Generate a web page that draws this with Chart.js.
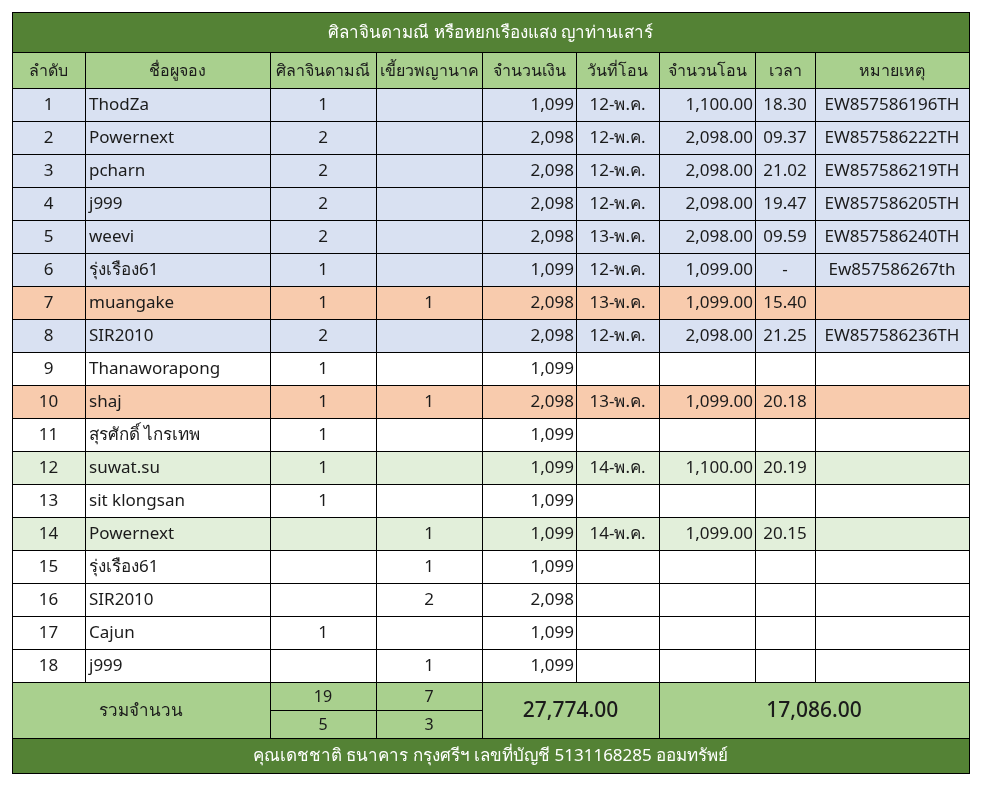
<!DOCTYPE html>
<html>
<head>
<meta charset="utf-8">
<script src="https://cdn.jsdelivr.net/npm/chart.js@4"></script>
<style>
    html, body { margin: 0; padding: 0; background: #fff; }
    #wrap { width: 981px; height: 786px; }
</style>
</head>
<body>
<div id="wrap"><canvas id="bookingTable" width="981" height="786"></canvas></div>
<script>
// ข้อมูลตาราง
const title = 'ศิลาจินดามณี หรือหยกเรืองแสง ญาท่านเสาร์';
const footer = 'คุณเดชชาติ ธนาคาร กรุงศรีฯ เลขที่บัญชี 5131168285 ออมทรัพย์';
const headers = ['ลำดับ', 'ชื่อผูจอง', 'ศิลาจินดามณี', 'เขี้ยวพญานาค', 'จำนวนเงิน', 'วันที่โอน', 'จำนวนโอน', 'เวลา', 'หมายเหตุ'];

const rowNo = [1, 2, 3, 4, 5, 6, 7, 8, 9, 10, 11, 12, 13, 14, 15, 16, 17, 18];
const names = ['ThodZa', 'Powernext', 'pcharn', 'j999', 'weevi', 'รุ่งเรือง61', 'muangake', 'SIR2010', 'Thanaworapong',
    'shaj', 'สุรศักดิ์ ไกรเทพ', 'suwat.su', 'sit klongsan', 'Powernext', 'รุ่งเรือง61', 'SIR2010', 'Cajun', 'j999'];
const stone = [1, 2, 2, 2, 2, 1, 1, 2, 1, 1, 1, 1, 1, null, null, null, 1, null];
const naga = [null, null, null, null, null, null, 1, null, null, 1, null, null, null, 1, 1, 2, null, 1];
const amount = [1099, 2098, 2098, 2098, 2098, 1099, 2098, 2098, 1099, 2098, 1099, 1099, 1099, 1099, 1099, 2098, 1099, 1099];
const transferDate = ['12-พ.ค.', '12-พ.ค.', '12-พ.ค.', '12-พ.ค.', '13-พ.ค.', '12-พ.ค.', '13-พ.ค.', '12-พ.ค.', '',
    '13-พ.ค.', '', '14-พ.ค.', '', '14-พ.ค.', '', '', '', ''];
const transferAmount = [1100, 2098, 2098, 2098, 2098, 1099, 1099, 2098, null, 1099, null, 1100, null, 1099, null, null, null, null];
const transferTime = ['18.30', '09.37', '21.02', '19.47', '09.59', '-', '15.40', '21.25', '', '20.18', '', '20.19', '', '20.15', '', '', '', ''];
const notes = ['EW857586196TH', 'EW857586222TH', 'EW857586219TH', 'EW857586205TH', 'EW857586240TH', 'Ew857586267th', '',
    'EW857586236TH', '', '', '', '', '', '', '', '', '', ''];
// สถานะแถว: sent = ส่งแล้ว, part = โอนบางส่วน, paid = โอนแล้ว
const rowStatus = ['sent', 'sent', 'sent', 'sent', 'sent', 'sent', 'part', 'sent', '', 'part', '', 'paid', '', 'paid', '', '', '', ''];

const totalLabel = 'รวมจำนวน';
const stoneTotals = [19, 5];
const nagaTotals = [7, 3];
const amountTotal = 27774;
const transferTotal = 17086;

// เลย์เอาต์ (หน่วยเดียวกับสเกลของกราฟ)
const colEdges = [0, 73, 257.5, 363.5, 469.7, 563.7, 647.3, 742.7, 803.3, 957];
const titleH = 40, headH = 36, rowH = 33, subH = 28.2, footH = 35;
const TABLE_W = 957, TABLE_H = 761;

const COLORS = {
    dark: '#548235',
    light: '#A9D08E',
    sent: '#D9E1F2',
    part: '#F8CBAD',
    paid: '#E2EFDA',
    none: '#FFFFFF',
    text: '#1b1b1b',
    line: '#000000'
};
const FONT = '"Noto Sans", "Open Sans", Tahoma, sans-serif';

const fmtInt = v => v == null ? '' : v.toLocaleString('en-US');
const fmtMoney = v => v == null ? '' : v.toLocaleString('en-US', { minimumFractionDigits: 2, maximumFractionDigits: 2 });

// สร้างรายการเซลล์ทั้งหมด
function buildCells() {
    const cells = [];
    const L = colEdges;
    let y = 0;
    cells.push({ x0: L[0], x1: L[9], y0: y, y1: y + titleH, fill: COLORS.dark, text: title, color: '#fff', align: 'center', size: 17 });
    y += titleH;
    headers.forEach((h, i) => {
        cells.push({ x0: L[i], x1: L[i + 1], y0: y, y1: y + headH, fill: COLORS.light, text: h, align: 'center', size: 16 });
    });
    y += headH;
    for (let r = 0; r < rowNo.length; r++) {
        const fill = COLORS[rowStatus[r] || 'none'];
        const vals = [
            [String(rowNo[r]), 'center'],
            [names[r], 'left'],
            [stone[r] == null ? '' : String(stone[r]), 'center'],
            [naga[r] == null ? '' : String(naga[r]), 'center'],
            [fmtInt(amount[r]), 'right'],
            [transferDate[r], 'center'],
            [fmtMoney(transferAmount[r]), 'right'],
            [transferTime[r], 'center'],
            [notes[r], 'center']
        ];
        vals.forEach((v, i) => {
            cells.push({ x0: L[i], x1: L[i + 1], y0: y, y1: y + rowH, fill, text: v[0], align: v[1], size: 17 });
        });
        y += rowH;
    }
    // แถวรวม
    const yMid = y + subH, yEnd = y + subH * 2;
    cells.push({ x0: L[0], x1: L[2], y0: y, y1: yEnd, fill: COLORS.light, text: totalLabel, align: 'center', size: 17 });
    cells.push({ x0: L[2], x1: L[3], y0: y, y1: yMid, fill: COLORS.light, text: String(stoneTotals[0]), align: 'center', size: 16 });
    cells.push({ x0: L[2], x1: L[3], y0: yMid, y1: yEnd, fill: COLORS.light, text: String(stoneTotals[1]), align: 'center', size: 16 });
    cells.push({ x0: L[3], x1: L[4], y0: y, y1: yMid, fill: COLORS.light, text: String(nagaTotals[0]), align: 'center', size: 16 });
    cells.push({ x0: L[3], x1: L[4], y0: yMid, y1: yEnd, fill: COLORS.light, text: String(nagaTotals[1]), align: 'center', size: 16 });
    cells.push({ x0: L[4], x1: L[6], y0: y, y1: yEnd, fill: COLORS.light, text: fmtMoney(amountTotal), align: 'center', size: 21, weight: 500 });
    cells.push({ x0: L[6], x1: L[9], y0: y, y1: yEnd, fill: COLORS.light, text: fmtMoney(transferTotal), align: 'center', size: 21, weight: 500 });
    y = yEnd;
    cells.push({ x0: L[0], x1: L[9], y0: y, y1: TABLE_H, fill: COLORS.dark, text: footer, color: '#fff', align: 'center', size: 17 });
    return cells;
}

// ปลั๊กอินวาดตารางผ่านสเกลของ Chart.js
const tablePlugin = {
    id: 'tablePlugin',
    afterDraw(chart) {
        const { ctx, scales: { x, y } } = chart;
        const cells = buildCells();
        const px = v => Math.round(x.getPixelForValue(v));
        const py = v => Math.round(y.getPixelForValue(v));

        ctx.save();
        cells.forEach(c => {
            ctx.fillStyle = c.fill;
            ctx.fillRect(px(c.x0), py(c.y0), px(c.x1) - px(c.x0), py(c.y1) - py(c.y0));
        });
        ctx.strokeStyle = COLORS.line;
        ctx.lineWidth = 1;
        cells.forEach(c => {
            ctx.strokeRect(px(c.x0) + 0.5, py(c.y0) + 0.5, px(c.x1) - px(c.x0), py(c.y1) - py(c.y0));
        });
        ctx.textBaseline = 'middle';
        cells.forEach(c => {
            if (!c.text) return;
            ctx.font = `${c.weight || 400} ${c.size}px ${FONT}`;
            ctx.fillStyle = c.color || COLORS.text;
            const cy = (py(c.y0) + py(c.y1)) / 2 + 1;
            let tx;
            if (c.align === 'left') {
                ctx.textAlign = 'left';
                tx = px(c.x0) + 4;
            } else if (c.align === 'right') {
                ctx.textAlign = 'right';
                tx = px(c.x1) - 2;
            } else {
                ctx.textAlign = 'center';
                tx = (px(c.x0) + px(c.x1)) / 2;
            }
            ctx.fillText(c.text, tx, cy);
        });
        ctx.restore();
    }
};

new Chart(document.getElementById('bookingTable'), {
    type: 'scatter',
    data: { datasets: [] },
    options: {
        responsive: false,
        animation: false,
        layout: { padding: { left: 12, top: 12, right: 12, bottom: 13 } },
        plugins: { legend: { display: false }, tooltip: { enabled: false } },
        scales: {
            x: { type: 'linear', min: 0, max: TABLE_W, display: false },
            y: { type: 'linear', min: 0, max: TABLE_H, reverse: true, display: false }
        }
    },
    plugins: [tablePlugin]
});
</script>
</body>
</html>
